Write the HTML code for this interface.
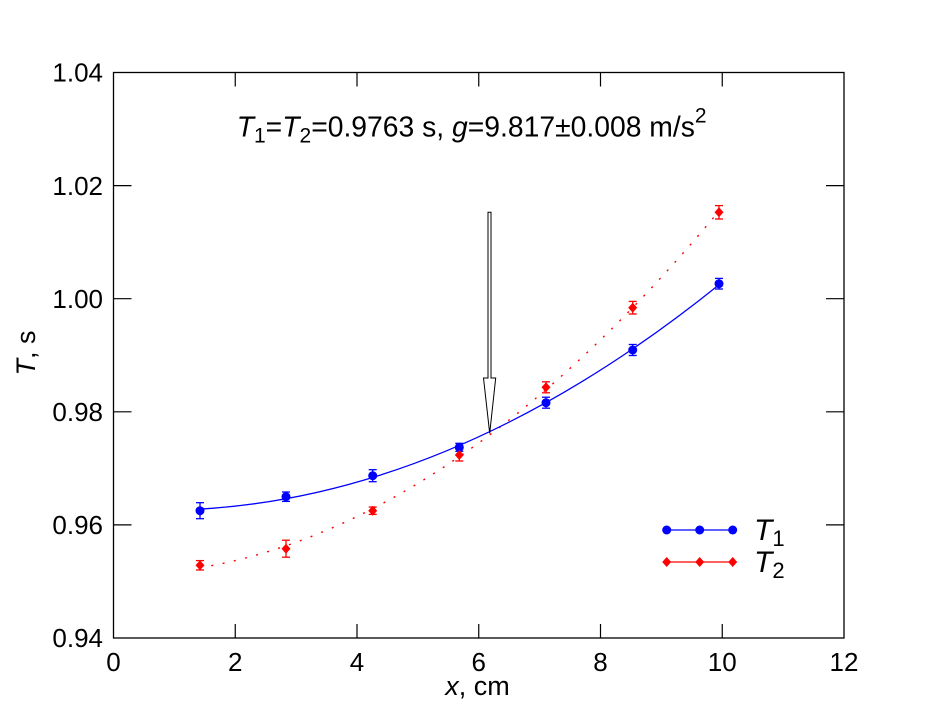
<!DOCTYPE html>
<html>
<head>
<meta charset="utf-8">
<style>
html,body{margin:0;padding:0;background:#fff;}
svg{display:block;}
text{font-family:"Liberation Sans",Arial,sans-serif;fill:#000;}
</style>
</head>
<body>
<svg width="938" height="725" viewBox="0 0 938 725" xmlns="http://www.w3.org/2000/svg">
<rect x="0" y="0" width="938" height="725" fill="#fff"/>

<!-- frame -->
<rect x="113.5" y="72.5" width="730.5" height="565.5" fill="none" stroke="#000" stroke-width="1.3"/>

<!-- ticks -->
<g stroke="#000" stroke-width="1.2">
  <line x1="235.25" y1="638" x2="235.25" y2="624"/>
  <line x1="357" y1="638" x2="357" y2="624"/>
  <line x1="478.75" y1="638" x2="478.75" y2="624"/>
  <line x1="600.5" y1="638" x2="600.5" y2="624"/>
  <line x1="722.25" y1="638" x2="722.25" y2="624"/>
  <line x1="235.25" y1="72.5" x2="235.25" y2="86.5"/>
  <line x1="357" y1="72.5" x2="357" y2="86.5"/>
  <line x1="478.75" y1="72.5" x2="478.75" y2="86.5"/>
  <line x1="600.5" y1="72.5" x2="600.5" y2="86.5"/>
  <line x1="722.25" y1="72.5" x2="722.25" y2="86.5"/>
  <line x1="113.5" y1="524.9" x2="131.5" y2="524.9"/>
  <line x1="113.5" y1="411.8" x2="131.5" y2="411.8"/>
  <line x1="113.5" y1="298.7" x2="131.5" y2="298.7"/>
  <line x1="113.5" y1="185.6" x2="131.5" y2="185.6"/>
  <line x1="844" y1="524.9" x2="826" y2="524.9"/>
  <line x1="844" y1="411.8" x2="826" y2="411.8"/>
  <line x1="844" y1="298.7" x2="826" y2="298.7"/>
  <line x1="844" y1="185.6" x2="826" y2="185.6"/>
</g>

<!-- y tick labels -->
<g font-size="26" text-anchor="end">
  <text x="103" y="647">0.94</text>
  <text x="103" y="534">0.96</text>
  <text x="103" y="421">0.98</text>
  <text x="103" y="308">1.00</text>
  <text x="103" y="195">1.02</text>
  <text x="103" y="81.5">1.04</text>
</g>
<!-- x tick labels -->
<g font-size="26" text-anchor="middle">
  <text x="113.5" y="671">0</text>
  <text x="235.25" y="671">2</text>
  <text x="357" y="671">4</text>
  <text x="478.75" y="671">6</text>
  <text x="600.5" y="671">8</text>
  <text x="722.25" y="671">10</text>
  <text x="844" y="671">12</text>
</g>

<!-- axis labels -->
<text x="477.5" y="695" font-size="27" text-anchor="middle"><tspan font-style="italic">x</tspan>, cm</text>
<text transform="translate(35,353) rotate(-90)" font-size="27" text-anchor="middle"><tspan font-style="italic">T</tspan>, s</text>

<!-- title -->
<text x="236.7" y="136.7" font-size="28.3"><tspan font-style="italic">T</tspan><tspan font-size="21" dy="6">1</tspan><tspan dy="-6">=</tspan><tspan font-style="italic">T</tspan><tspan font-size="21" dy="6">2</tspan><tspan dy="-6">=0.9763 s, </tspan><tspan font-style="italic">g</tspan><tspan>=9.817±0.008 m/s</tspan><tspan font-size="21" dy="-14">2</tspan></text>

<!-- fit curves -->
<path d="M200,567.8 Q459.5,523.6 719,211.1" fill="none" stroke="#ff0000" stroke-width="1.4" stroke-dasharray="2 9.5"/>
<path d="M200,509.1 Q459.5,493.8 719,284.7" fill="none" stroke="#0000ff" stroke-width="1.3"/>

<!-- arrow -->
<polygon points="488,212.3 491,212.3 491,378 495.7,378 489.7,433.3 483.5,378 488,378" fill="#fff" stroke="#000" stroke-width="1"/>

<!-- blue error bars -->
<g stroke="#0000ff" stroke-width="1.3">
  <line x1="200" y1="502.7" x2="200" y2="518.7"/><line x1="196" y1="502.7" x2="204" y2="502.7"/><line x1="196" y1="518.7" x2="204" y2="518.7"/>
  <line x1="286" y1="492" x2="286" y2="501.4"/><line x1="282" y1="492" x2="290" y2="492"/><line x1="282" y1="501.4" x2="290" y2="501.4"/>
  <line x1="372.7" y1="469.7" x2="372.7" y2="481.7"/><line x1="368.7" y1="469.7" x2="376.7" y2="469.7"/><line x1="368.7" y1="481.7" x2="376.7" y2="481.7"/>
  <line x1="459.3" y1="443.3" x2="459.3" y2="451.3"/><line x1="455.3" y1="443.3" x2="463.3" y2="443.3"/><line x1="455.3" y1="451.3" x2="463.3" y2="451.3"/>
  <line x1="546" y1="397.2" x2="546" y2="408.2"/><line x1="542" y1="397.2" x2="550" y2="397.2"/><line x1="542" y1="408.2" x2="550" y2="408.2"/>
  <line x1="632.7" y1="344.5" x2="632.7" y2="355.5"/><line x1="628.7" y1="344.5" x2="636.7" y2="344.5"/><line x1="628.7" y1="355.5" x2="636.7" y2="355.5"/>
  <line x1="719" y1="278.4" x2="719" y2="289"/><line x1="715" y1="278.4" x2="723" y2="278.4"/><line x1="715" y1="289" x2="723" y2="289"/>
</g>
<!-- red error bars -->
<g stroke="#ff0000" stroke-width="1.3">
  <line x1="200" y1="560.6" x2="200" y2="570"/><line x1="196" y1="560.6" x2="204" y2="560.6"/><line x1="196" y1="570" x2="204" y2="570"/>
  <line x1="286" y1="540.2" x2="286" y2="557.2"/><line x1="282" y1="540.2" x2="290" y2="540.2"/><line x1="282" y1="557.2" x2="290" y2="557.2"/>
  <line x1="372.7" y1="507" x2="372.7" y2="514.4"/><line x1="368.7" y1="507" x2="376.7" y2="507"/><line x1="368.7" y1="514.4" x2="376.7" y2="514.4"/>
  <line x1="459.3" y1="449" x2="459.3" y2="461"/><line x1="455.3" y1="449" x2="463.3" y2="449"/><line x1="455.3" y1="461" x2="463.3" y2="461"/>
  <line x1="546" y1="381.8" x2="546" y2="392.8"/><line x1="542" y1="381.8" x2="550" y2="381.8"/><line x1="542" y1="392.8" x2="550" y2="392.8"/>
  <line x1="632.7" y1="301.4" x2="632.7" y2="314"/><line x1="628.7" y1="301.4" x2="636.7" y2="301.4"/><line x1="628.7" y1="314" x2="636.7" y2="314"/>
  <line x1="719" y1="205.6" x2="719" y2="219"/><line x1="715" y1="205.6" x2="723" y2="205.6"/><line x1="715" y1="219" x2="723" y2="219"/>
</g>

<!-- blue markers -->
<g fill="#0000ff">
  <circle cx="200" cy="510.7" r="4.5"/>
  <circle cx="286" cy="496.7" r="4.5"/>
  <circle cx="372.7" cy="475.7" r="4.5"/>
  <circle cx="459.3" cy="447.3" r="4.5"/>
  <circle cx="546" cy="402.7" r="4.5"/>
  <circle cx="632.7" cy="350" r="4.5"/>
  <circle cx="719" cy="283.7" r="4.5"/>
</g>
<!-- red markers -->
<g fill="#ff0000">
  <polygon points="200,560.3 204.5,565.3 200,570.3 195.5,565.3"/>
  <polygon points="286,543.7 290.5,548.7 286,553.7 281.5,548.7"/>
  <polygon points="372.7,505.7 377.2,510.7 372.7,515.7 368.2,510.7"/>
  <polygon points="459.3,450 463.8,455 459.3,460 454.8,455"/>
  <polygon points="546,382.3 550.5,387.3 546,392.3 541.5,387.3"/>
  <polygon points="632.7,302.7 637.2,307.7 632.7,312.7 628.2,307.7"/>
  <polygon points="719,207.3 723.5,212.3 719,217.3 714.5,212.3"/>
</g>

<!-- legend -->
<line x1="666.7" y1="530" x2="732.7" y2="530" stroke="#0000ff" stroke-width="1.3"/>
<g fill="#0000ff">
  <circle cx="666.7" cy="530" r="4.5"/>
  <circle cx="699.7" cy="530" r="4.5"/>
  <circle cx="732.7" cy="530" r="4.5"/>
</g>
<line x1="666.7" y1="562" x2="732.7" y2="562" stroke="#ff0000" stroke-width="1.3"/>
<g fill="#ff0000">
  <polygon points="666.7,557 671.2,562 666.7,567 662.2,562"/>
  <polygon points="699.7,557 704.2,562 699.7,567 695.2,562"/>
  <polygon points="732.7,557 737.2,562 732.7,567 728.2,562"/>
</g>
<text x="754" y="540" font-size="30"><tspan font-style="italic">T</tspan><tspan font-size="22" dy="6">1</tspan></text>
<text x="754" y="572" font-size="30"><tspan font-style="italic">T</tspan><tspan font-size="22" dy="6">2</tspan></text>
</svg>
</body>
</html>
